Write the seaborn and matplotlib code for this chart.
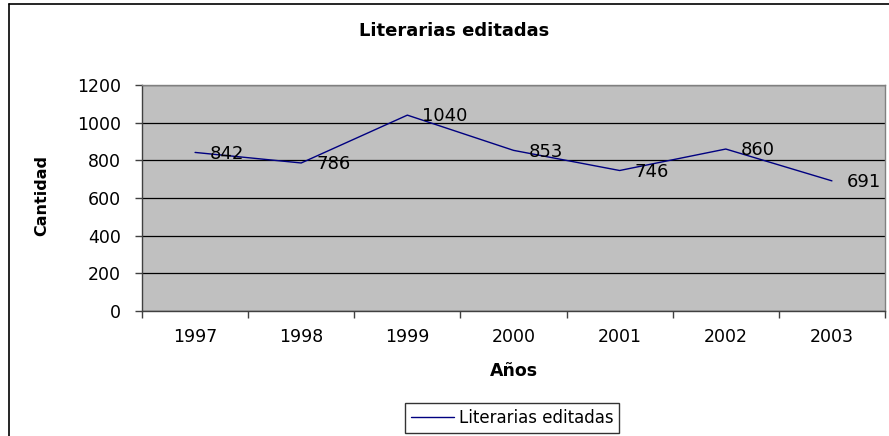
import matplotlib
matplotlib.use("Agg")
import matplotlib.pyplot as plt
import seaborn as sns
import pandas as pd
import numpy as np
from matplotlib.lines import Line2D

years = ["1997", "1998", "1999", "2000", "2001", "2002", "2003"]
values = [842, 786, 1040, 853, 746, 860, 691]
series_name = "Literarias editadas"

sns.set_theme(style="white")
plt.rcParams['font.family'] = ['DejaVu Sans']
plt.rcParams.update({
    "text.color": "black", "axes.labelcolor": "black",
    "xtick.color": "black", "ytick.color": "black",
    "xtick.bottom": True, "ytick.left": True,
    "xtick.minor.visible": False,
})

df = pd.DataFrame({"pos": np.arange(len(years)), "val": values, "serie": series_name})

W, H = 889, 436
fig = plt.figure(figsize=(W/100, H/100), dpi=100)
L, R, T, B = 142, 885, 85, 311
ax = fig.add_axes([L/W, 1-B/H, (R-L)/W, (B-T)/H])
ax.set_facecolor("#C0C0C0")

sns.lineplot(data=df, x="pos", y="val", ax=ax, color="#000080", linewidth=1.0,
             legend=False)

for x, v in zip(df["pos"], values):
    ax.annotate(str(v), (x, v), xytext=(10.8, -4.5), textcoords="offset points",
                ha="left", va="baseline", fontsize=13, color="black")

ax.set_xlim(-0.5, len(years) - 0.5)
ax.set_ylim(0, 1200)
ax.set_yticks(range(0, 1201, 200))
ax.set_yticklabels([str(v) for v in range(0, 1201, 200)], fontsize=12.5)
ax.set_xticks(np.arange(len(years)))
ax.set_xticklabels(years, fontsize=12.5)
ax.set_xticks(np.arange(-0.5, len(years), 1.0), minor=True)
ax.tick_params(axis="x", which="major", length=0, pad=12, bottom=True)
ax.tick_params(axis="x", which="minor", length=5, width=1, color="#404040",
               direction="out", bottom=True)
ax.tick_params(axis="y", which="major", length=5, width=1, color="#404040",
               direction="out", left=True, pad=10)
ax.grid(axis="y", color="black", linewidth=0.9)
ax.grid(axis="x", visible=False)
ax.set_axisbelow(True)

for s in ["top", "right"]:
    ax.spines[s].set_color("#808080")
    ax.spines[s].set_linewidth(1)
for s in ["left", "bottom"]:
    ax.spines[s].set_color("#404040")
    ax.spines[s].set_linewidth(1)

xl = ax.set_xlabel("Años", fontsize=12.5, fontweight="bold")
yl = ax.set_ylabel("Cantidad", fontsize=11.5, fontweight="bold")
xl.set_va("center")
yl.set_va("center")
ax.xaxis.set_label_coords(0.5, -(371-B)/(B-T))
ax.yaxis.set_label_coords(-(L-42)/(R-L), 1-(196-T)/(B-T))

fig.text(454/W, 1-31.5/H, "Literarias editadas", ha="center", va="center",
         fontsize=13, fontweight="bold")

handle = Line2D([], [], color="#000080", linewidth=1.0)
leg = fig.legend([handle], [series_name], loc="center", bbox_to_anchor=(512/W, 1-418/H),
                 fontsize=12, frameon=True, fancybox=False, edgecolor="black",
                 handlelength=2.6, handletextpad=0.3, borderpad=0.35, borderaxespad=0)
leg.get_frame().set_linewidth(1)

fig.add_artist(Line2D([9/W, 9/W], [0, 1-4/H], transform=fig.transFigure, color="black", linewidth=1.2))
fig.add_artist(Line2D([9/W, 1], [1-4/H, 1-4/H], transform=fig.transFigure, color="black", linewidth=1.2))

fig.savefig("out.png", dpi=100)
